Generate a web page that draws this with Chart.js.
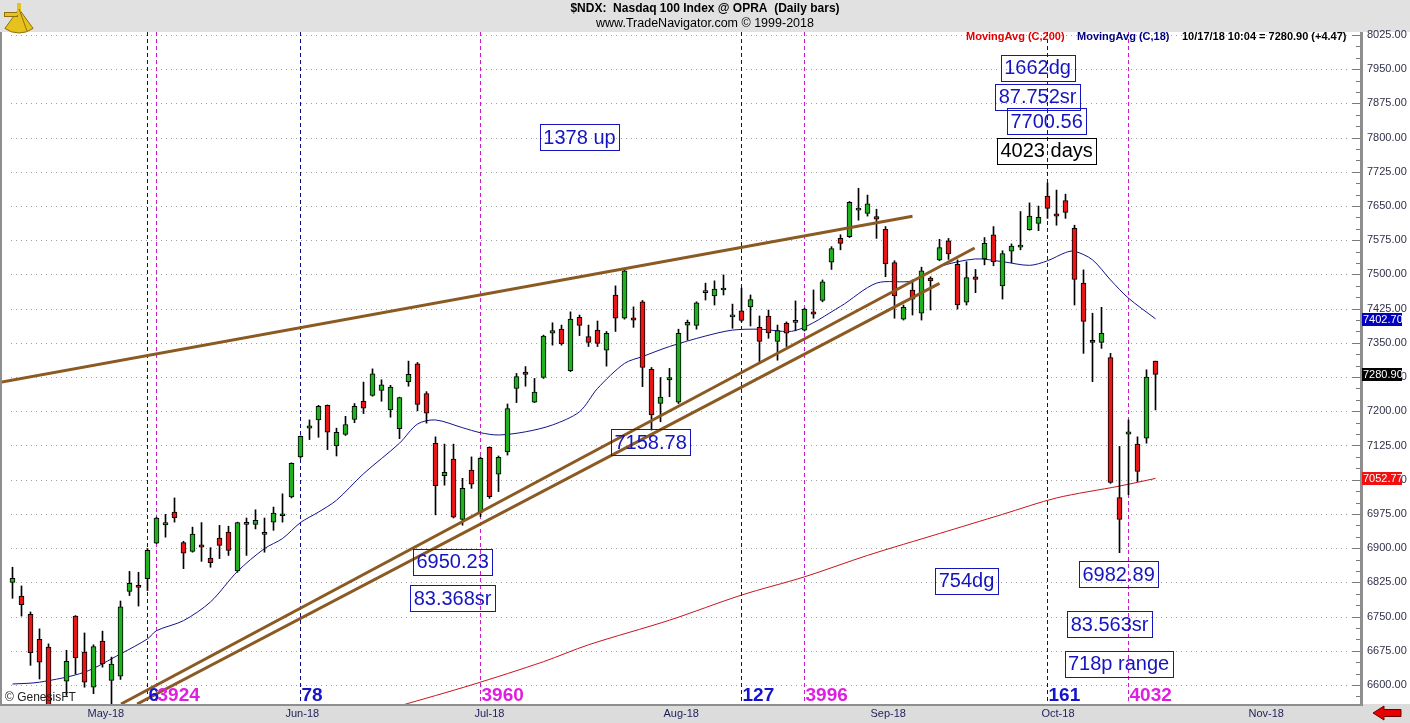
<!DOCTYPE html>
<html>
<head>
<meta charset="utf-8">
<title>$NDX Daily bars</title>
<script src="https://cdn.jsdelivr.net/npm/chart.js@4.4.1/dist/chart.umd.min.js"></script>
<style>
  html, body { margin: 0; padding: 0; background: #fff; }
  #wrap { width: 1410px; height: 723px; }
</style>
</head>
<body>
<div id="wrap"><canvas id="chart" width="1410" height="723"></canvas></div>
<script>
// ---- values ----
const monthLabels = ['May-18', 'Jun-18', 'Jul-18', 'Aug-18', 'Sep-18', 'Oct-18', 'Nov-18'];
const monthBars = [9, 31, 52, 73, 96, 115, 138];   // first trading day of each month

// daily bars, 18 Apr 2018 .. 17 Oct 2018
const opens = [
  6825, 6795, 6755, 6700, 6683, 6545, 6608, 6751, 6672, 6595,
  6696, 6610, 6619, 6805, 6815, 6833, 6911, 6951, 6979, 6912,
  6893, 6907, 6878, 6922, 6935, 6850, 6952, 6952, 6930, 6957,
  6971, 7012, 7100, 7163, 7181, 7213, 7124, 7149, 7182, 7222,
  7235, 7246, 7203, 7162, 7265, 7304, 7239, 7130, 7059, 7095,
  6963, 7071, 6978, 7121, 7062, 7111, 7250, 7286, 7220, 7274,
  7371, 7380, 7289, 7406, 7364, 7378, 7334, 7455, 7404, 7405,
  7440, 7292, 7217, 7269, 7220, 7389, 7388, 7460, 7453, 7466,
  7407, 7420, 7429, 7384, 7409, 7353, 7393, 7395, 7378, 7418,
  7443, 7527, 7579, 7583, 7641, 7634, 7627, 7599, 7526, 7402,
  7466, 7415, 7492, 7532, 7574, 7522, 7439, 7495, 7534, 7587,
  7475, 7551, 7560, 7598, 7612, 7672, 7633, 7662, 7601, 7481,
  7355, 7351, 7318, 7011, 7150, 7128, 7141, 7310
];
const highs = [
  6858, 6817, 6760, 6723, 6690, 6552, 6676, 6752, 6714, 6688,
  6718, 6661, 6784, 6849, 6847, 6899, 6968, 6974, 7010, 6915,
  6946, 6956, 6901, 6950, 6948, 6957, 6966, 6984, 6966, 6990,
  7019, 7087, 7146, 7181, 7213, 7214, 7163, 7189, 7217, 7264,
  7293, 7269, 7257, 7231, 7310, 7307, 7243, 7144, 7128, 7128,
  7053, 7100, 7100, 7122, 7102, 7216, 7283, 7298, 7272, 7367,
  7394, 7389, 7418, 7411, 7389, 7398, 7375, 7475, 7510, 7429,
  7443, 7296, 7274, 7294, 7380, 7400, 7440, 7481, 7486, 7499,
  7435, 7470, 7455, 7409, 7422, 7389, 7396, 7442, 7426, 7466,
  7488, 7561, 7587, 7660, 7689, 7674, 7643, 7605, 7530, 7433,
  7488, 7516, 7495, 7577, 7579, 7532, 7528, 7511, 7581, 7605,
  7552, 7567, 7638, 7657, 7650, 7700.56, 7685, 7676, 7608, 7510,
  7415, 7428, 7327, 7123, 7181, 7144, 7291, 7310
];
const lows = [
  6790, 6751, 6643, 6613, 6530, 6480, 6577, 6624, 6595, 6581,
  6639, 6540, 6612, 6796, 6773, 6807, 6910, 6924, 6957, 6855,
  6891, 6871, 6858, 6877, 6884, 6847, 6884, 6942, 6891, 6939,
  6957, 7010, 7097, 7138, 7143, 7116, 7102, 7147, 7175, 7195,
  7233, 7222, 7187, 7140, 7255, 7201, 7174, 6973, 7038, 6966,
  6950.23, 7031, 6969, 7009, 7024, 7104, 7219, 7255, 7219, 7272,
  7345, 7345, 7287, 7366, 7342, 7342, 7299, 7375, 7402, 7384,
  7254, 7158.78, 7177, 7232, 7217, 7356, 7380, 7444, 7433, 7455,
  7382, 7396, 7387, 7307, 7360, 7312, 7342, 7377, 7376, 7404,
  7440, 7511, 7554, 7581, 7619, 7628, 7579, 7495, 7404, 7400,
  7411, 7400, 7422, 7530, 7533, 7424, 7433, 7460, 7521, 7519,
  7446, 7526, 7554, 7597, 7596, 7623, 7608, 7623, 7433, 7327,
  7265, 7338, 7042, 6890, 7017, 7046, 7130, 7203
];
const closes = [
  6834, 6776, 6671, 6650, 6545, 6530, 6652, 6659, 6606, 6684,
  6646, 6646, 6771, 6823, 6814, 6895, 6966, 6956, 6967, 6889,
  6931, 6902, 6868, 6906, 6895, 6956, 6953, 6961, 6931, 6977,
  6972, 7086, 7145, 7168, 7211, 7154, 7154, 7171, 7211, 7207,
  7282, 7258, 7253, 7230, 7281, 7215, 7196, 7037, 7066, 6968,
  7031, 7040, 7097, 7013, 7099, 7206, 7276, 7281, 7242, 7365,
  7377, 7348, 7402, 7388, 7351, 7349, 7371, 7404, 7508, 7400,
  7296, 7192, 7231, 7274, 7371, 7395, 7438, 7461, 7468, 7467,
  7408, 7399, 7445, 7353, 7372, 7377, 7371, 7396, 7424, 7413,
  7484, 7557, 7568, 7658, 7642, 7655, 7621, 7523, 7453, 7428,
  7446, 7508, 7486, 7559, 7545, 7433, 7493, 7489, 7568, 7528,
  7546, 7562, 7561, 7628, 7625, 7645, 7628, 7636, 7489, 7397,
  7351, 7371, 7044, 6963, 7155, 7068, 7275, 7280.90
];

// moving averages, sampled along the drawn curves (bar index -> value)
const ma18Bars   = [0, 3, 8, 12, 15, 16, 19, 22, 25, 28, 30, 32, 34, 36, 39, 43, 45, 47, 50, 52,
                    54, 57, 60, 63, 65, 68, 70, 73, 77, 80, 83, 87, 92, 96, 100, 103, 107, 110, 113, 115,
                    117, 118, 120, 122, 124, 127];
const ma18Values = [6602, 6606, 6628, 6668, 6701, 6719, 6741, 6782, 6849, 6899, 6921, 6956, 6979, 7005, 7063, 7130, 7172, 7181, 7164, 7153,
                    7148, 7155, 7170, 7199, 7250, 7305, 7320, 7342, 7365, 7378, 7380, 7377, 7430, 7481, 7486, 7517, 7534, 7528, 7520, 7530,
                    7548, 7551, 7532, 7488, 7448, 7402.70];
const ma200Bars   = [43, 51, 59, 64, 73, 81, 88, 95, 103, 110, 116, 123, 127];
const ma200Values = [6554, 6600, 6651, 6688, 6742, 6797, 6837, 6884, 6932, 6974, 7010, 7036, 7052.77];

// hand-drawn trendlines: [bar, price] end points
const trendUpper = [[-1.4, 7263.5], [100, 7627.7]];
const trendLowA  = [[12.06, 6558.2], [106.9, 7558]];
const trendLowB  = [[13.85, 6558.2], [103.0, 7480.6]];

const priceTicks = [6600, 6675, 6750, 6825, 6900, 6975, 7050, 7125, 7200, 7275, 7350,
                    7425, 7500, 7575, 7650, 7725, 7800, 7875, 7950, 8025];

// last values shown on the price axis
const tagValues = [7402.70, 7280.90, 7052.77];
const tagKinds  = ['ma18', 'last', 'ma200'];

// cycle markers along the bottom
const cycleBars   = [15, 16, 32, 52, 81, 88, 115, 124];
const cycleLabels = ['6', '3924', '78', '3960', '127', '3996', '161', '4032'];
const cycleKinds  = ['bar', 'cal', 'bar', 'cal', 'bar', 'cal', 'bar', 'cal'];

// boxed notes: text, bar at centre, price at centre
const noteTexts  = ['1378 up', '1662dg', '87.752sr', '7700.56', '4023 days', '7158.78',
                    '6950.23', '83.368sr', '754dg', '6982.89', '83.563sr', '718p range'];
const noteBars   = [63, 113.9, 113.9, 114.9, 114.9, 70.9, 48.9, 48.9, 106, 122.9, 121.9, 122.9];
const noteValues = [7801, 7953, 7890, 7836, 7771, 7132, 6870, 6790, 6828, 6843, 6733, 6646];
const noteKinds  = ['blue', 'blue', 'blue', 'blue', 'black', 'blue', 'blue', 'blue', 'blue', 'blue', 'blue', 'blue'];

// ---- styling ----
const FONT = '"Liberation Sans", Arial, sans-serif';
const GREEN = '#1fb11f';
const RED = '#e81616';
const BROWN = '#8b5a22';
const NAVY = '#14148c';
const MAGENTA = '#d21ed2';
const BLUE_TXT = '#1414c0';

const idx = opens.map((_, i) => i);
const wicks = idx.map(i => ({ x: i, y: [lows[i], highs[i]] }));
const bodies = idx.map(i => ({ x: i, y: [opens[i], closes[i]] }));
const bodyColors = idx.map(i => closes[i] >= opens[i] ? GREEN : RED);
const pts = (bars, vals) => bars.map((b, k) => ({ x: b, y: vals[k] }));
const seg = pair => pair.map(p => ({ x: p[0], y: p[1] }));

function drawSextant(ctx) {
  ctx.save();
  ctx.fillStyle = '#e6c21e';
  ctx.strokeStyle = '#8f700c';
  ctx.lineWidth = 1;
  ctx.beginPath();
  ctx.moveTo(19, 9);
  ctx.arc(19, 9, 24, Math.PI * 0.3, Math.PI * 0.7);
  ctx.closePath();
  ctx.fill();
  ctx.stroke();
  ctx.fillRect(4, 12, 14, 5);
  ctx.strokeRect(4.5, 12.5, 13, 4);
  ctx.fillRect(17, 3, 4, 12);
  ctx.beginPath();
  ctx.moveTo(19, 9); ctx.lineTo(27, 31);
  ctx.stroke();
  ctx.restore();
}

const chromePlugin = {
  id: 'chrome',
  beforeDraw(chart) {
    const { ctx, chartArea: a, width, height } = chart;
    ctx.save();
    ctx.fillStyle = '#fff';
    ctx.fillRect(0, 0, width, height);
    ctx.fillStyle = '#e1e1e1';
    ctx.fillRect(0, 0, width, a.top);
    ctx.fillStyle = '#dcdcdc';
    ctx.fillRect(0, a.bottom, width, height - a.bottom);

    ctx.fillStyle = '#000';
    ctx.textAlign = 'center';
    ctx.textBaseline = 'middle';
    ctx.font = 'bold 12px ' + FONT;
    ctx.fillText('$NDX:  Nasdaq 100 Index @ OPRA  (Daily bars)', 705, 9);
    ctx.font = '12.5px ' + FONT;
    ctx.fillText('www.TradeNavigator.com \u00A9 1999-2018', 705, 24);
    drawSextant(ctx);
    ctx.restore();
  },

  beforeDatasetsDraw(chart) {
    const { ctx, chartArea: a, scales: { x, y } } = chart;
    ctx.save();
    // dotted price grid
    ctx.strokeStyle = '#9c9c9c';
    ctx.lineWidth = 1;
    ctx.setLineDash([1, 4]);
    priceTicks.forEach(v => {
      const yy = Math.round(y.getPixelForValue(v)) + 0.5;
      ctx.beginPath();
      ctx.moveTo(a.left + 9, yy);
      ctx.lineTo(a.right - 10, yy);
      ctx.stroke();
    });
    // cycle lines
    ctx.setLineDash([4, 3]);
    cycleBars.forEach((b, k) => {
      const xx = x.getPixelForValue(b);
      ctx.strokeStyle = cycleKinds[k] === 'bar' ? '#0c0c82' : '#c81ec8';
      ctx.beginPath();
      ctx.moveTo(xx, a.top);
      ctx.lineTo(xx, a.bottom);
      ctx.stroke();
    });
    ctx.restore();
  },

  afterDatasetsDraw(chart) {
    const { ctx, chartArea: a, scales: { x, y }, width, height } = chart;
    ctx.save();

    // boxed notes
    ctx.font = '20px ' + FONT;
    ctx.textAlign = 'center';
    ctx.textBaseline = 'middle';
    ctx.lineWidth = 1;
    noteTexts.forEach((t, k) => {
      const cx = x.getPixelForValue(noteBars[k]);
      const cy = y.getPixelForValue(noteValues[k]);
      const w = Math.round(ctx.measureText(t).width + 7);
      const h = 26;
      const col = noteKinds[k] === 'black' ? '#000' : BLUE_TXT;
      ctx.strokeStyle = col;
      ctx.strokeRect(Math.round(cx - w / 2) + 0.5, Math.round(cy - h / 2) + 0.5, w, h);
      ctx.fillStyle = col;
      ctx.fillText(t, cx, cy + 1);
    });

    // cycle counts along the bottom
    ctx.font = 'bold 19px ' + FONT;
    ctx.textAlign = 'left';
    ctx.textBaseline = 'alphabetic';
    cycleBars.forEach((b, k) => {
      ctx.fillStyle = cycleKinds[k] === 'bar' ? '#1414cc' : '#e01ee0';
      ctx.fillText(cycleLabels[k], x.getPixelForValue(b) + 1, a.bottom - 3);
    });

    // indicator legend
    ctx.font = 'bold 11px ' + FONT;
    ctx.textBaseline = 'middle';
    ctx.fillStyle = '#e00000';
    ctx.fillText('MovingAvg (C,200)', 966, a.top + 5);
    ctx.fillStyle = '#000080';
    ctx.fillText('MovingAvg (C,18)', 1077, a.top + 5);
    ctx.fillStyle = '#000';
    ctx.fillText('10/17/18 10:04 = 7280.90 (+4.47)', 1182, a.top + 5);

    // frame
    ctx.fillStyle = '#8e8e8e';
    ctx.fillRect(0, a.top, 2, a.bottom - a.top);
    ctx.fillRect(0, a.bottom, a.right + 3, 2);
    ctx.fillRect(a.right, a.top, 3, a.bottom - a.top + 2);

    // price axis tick marks
    ctx.strokeStyle = '#7a7a7a';
    ctx.lineWidth = 1;
    for (let v = 6575; v <= 8025; v += 25) {
      const yy = Math.round(y.getPixelForValue(v)) + 0.5;
      const len = priceTicks.includes(v) ? 8 : 4;
      ctx.beginPath();
      ctx.moveTo(a.right - len, yy);
      ctx.lineTo(a.right, yy);
      ctx.stroke();
    }

    // last-value tags
    ctx.font = '11px ' + FONT;
    ctx.textAlign = 'left';
    tagValues.forEach((v, k) => {
      const yy = Math.round(y.getPixelForValue(v));
      ctx.fillStyle = tagKinds[k] === 'ma18' ? '#0000c0' : tagKinds[k] === 'ma200' ? '#f01010' : '#000';
      ctx.fillRect(a.right + 2, yy - 6, 40, 13);
      ctx.fillStyle = '#fff';
      ctx.fillText(v.toFixed(2), a.right + 3, yy + 1);
    });

    // copyright
    ctx.fillStyle = '#222';
    ctx.font = '12px ' + FONT;
    ctx.fillText('\u00A9 GenesisFT', 5, a.bottom - 6);

    // scroll arrow
    ctx.beginPath();
    ctx.moveTo(1373, 713);
    ctx.lineTo(1384, 706);
    ctx.lineTo(1384, 709.5);
    ctx.lineTo(1401, 709.5);
    ctx.lineTo(1401, 716.5);
    ctx.lineTo(1384, 716.5);
    ctx.lineTo(1384, 720);
    ctx.closePath();
    ctx.fillStyle = '#e60000';
    ctx.fill();
    ctx.strokeStyle = '#700000';
    ctx.stroke();
    ctx.restore();
  }
};

new Chart(document.getElementById('chart'), {
  type: 'bar',
  data: {
    datasets: [
      { type: 'line', label: 'MovingAvg (C,200)', data: pts(ma200Bars, ma200Values),
        borderColor: '#c8141e', borderWidth: 1, pointRadius: 0, tension: 0.3, order: 6 },
      { type: 'line', label: 'MovingAvg (C,18)', data: pts(ma18Bars, ma18Values),
        borderColor: NAVY, borderWidth: 1, pointRadius: 0, tension: 0.3, order: 5 },
      { label: 'wicks', data: wicks, backgroundColor: '#000', barThickness: 1,
        grouped: false, order: 4 },
      { label: 'bodies', data: bodies, backgroundColor: bodyColors, borderColor: '#000',
        borderWidth: 1, borderSkipped: false, barThickness: 5, minBarLength: 2,
        grouped: false, order: 3 },
      { type: 'line', label: 'trend upper', data: seg(trendUpper), borderColor: BROWN,
        borderWidth: 3, pointRadius: 0, order: 1 },
      { type: 'line', label: 'trend low a', data: seg(trendLowA), borderColor: BROWN,
        borderWidth: 3, pointRadius: 0, order: 1 },
      { type: 'line', label: 'trend low b', data: seg(trendLowB), borderColor: BROWN,
        borderWidth: 3, pointRadius: 0, order: 1 }
    ]
  },
  options: {
    responsive: false,
    animation: false,
    devicePixelRatio: 1,
    layout: { padding: { top: 32, left: 2, right: 0, bottom: 0 } },
    plugins: { legend: { display: false }, tooltip: { enabled: false } },
    scales: {
      x: {
        type: 'linear',
        offset: false,
        min: -1.1667,
        max: 149.722,
        grid: { display: false, drawTicks: false, offset: false },
        border: { display: false },
        afterBuildTicks: s => { s.ticks = monthBars.map(v => ({ value: v })); },
        afterFit: s => { s.height = 19; },
        ticks: {
          autoSkip: false, maxRotation: 0, align: 'start', labelOffset: -6, padding: 3,
          color: '#1e1e5a', font: { family: FONT, size: 11 },
          callback: (v, i) => monthLabels[i]
        }
      },
      y: {
        position: 'right',
        min: 6558.2,
        max: 8031.6,
        grid: { display: false, drawTicks: false },
        border: { display: false },
        afterBuildTicks: s => { s.ticks = priceTicks.map(v => ({ value: v })); },
        afterFit: s => { s.width = 50; },
        ticks: {
          autoSkip: false, padding: 7, color: '#30304a', font: { family: FONT, size: 11 },
          callback: v => Number(v).toFixed(2)
        }
      }
    }
  },
  plugins: [chromePlugin]
});
</script>
</body>
</html>
